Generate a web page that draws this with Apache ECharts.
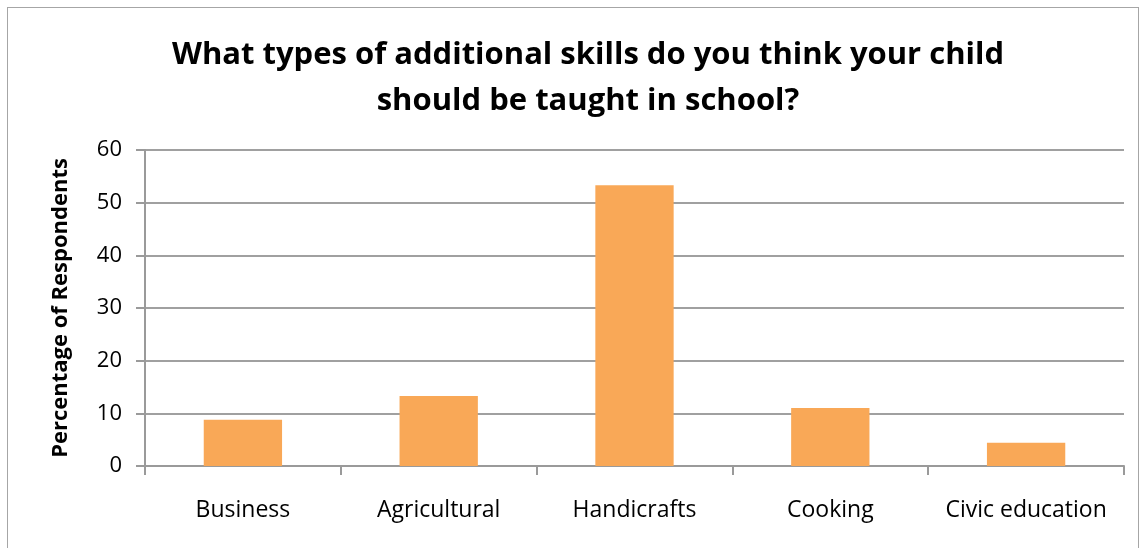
<!DOCTYPE html>
<html>
<head>
<meta charset="utf-8">
<script src="https://cdn.jsdelivr.net/npm/echarts@6/dist/echarts.min.js"></script>
<style>
  html, body { margin: 0; padding: 0; background: #fff; }
  #frame { position: absolute; left: 7px; top: 7px; width: 1132px; height: 560px; border: 1.5px solid #a6a6a6; box-sizing: border-box; }
  #chart { position: absolute; left: 0; top: 0; width: 1142px; height: 548px; }
</style>
</head>
<body>
<div id="frame"></div>
<div id="chart"></div>
<script>
const categories = ["Business", "Agricultural", "Handicrafts", "Cooking", "Civic education"];
const values = [8.8, 13.3, 53.3, 11.0, 4.4];
const yTicks = { min: 0, max: 60, interval: 10 };

const chart = echarts.init(document.getElementById("chart"));
chart.setOption({
  animation: false,
  title: {
    text: "What types of additional skills do you think your child\nshould be taught in school?",
    left: 583,
    top: 27,
    textAlign: "center",
    textStyle: { fontFamily: "Open Sans", fontWeight: "bold", fontSize: 31, lineHeight: 46, color: "#000" }
  },
  grid: { left: 145, right: 18, top: 150, bottom: 82 },
  xAxis: {
    type: "category",
    data: categories,
    axisLine: { lineStyle: { color: "#9a9a9a", width: 2 } },
    axisTick: { show: true, interval: 0, length: 9, lineStyle: { color: "#9a9a9a", width: 2 } },
    axisLabel: { interval: 0, color: "#000", fontFamily: "Open Sans", fontSize: 23, margin: 33 }
  },
  yAxis: {
    type: "value",
    min: yTicks.min,
    max: yTicks.max,
    interval: yTicks.interval,
    name: "Percentage of Respondents",
    nameLocation: "middle",
    nameRotate: 90,
    nameGap: 73,
    nameTextStyle: { fontFamily: "Open Sans", fontWeight: "bold", fontSize: 22, color: "#000" },
    axisLine: { show: true, lineStyle: { color: "#9a9a9a", width: 2 } },
    axisTick: { show: true, length: 9, lineStyle: { color: "#9a9a9a", width: 2 } },
    splitLine: { lineStyle: { color: "#a0a0a0", width: 2 } },
    axisLabel: { color: "#000", fontFamily: "Open Sans", fontSize: 22, margin: 23 }
  },
  series: [{
    type: "bar",
    data: values,
    barWidth: "40%",
    itemStyle: { color: "#F9A857" }
  }]
});
</script>
</body>
</html>
